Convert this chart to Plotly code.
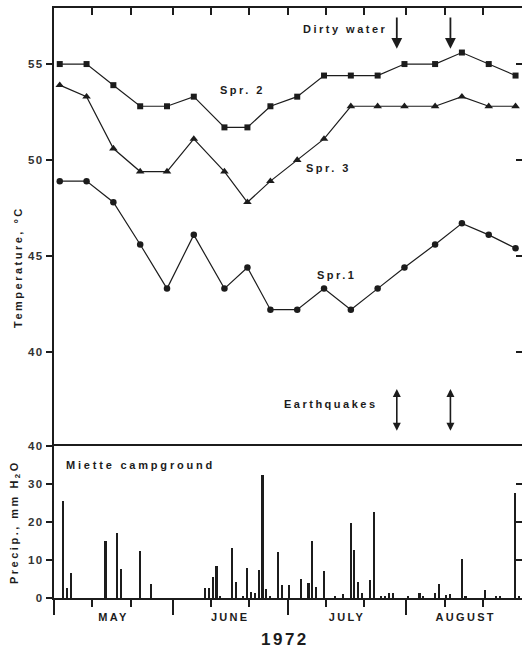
import plotly.graph_objects as go
import pandas as pd

# ---------------- data ----------------
sample_dates = ["1972-05-02", "1972-05-09", "1972-05-16", "1972-05-23", "1972-05-30",
                "1972-06-06", "1972-06-14", "1972-06-20", "1972-06-26", "1972-07-03",
                "1972-07-10", "1972-07-17", "1972-07-24", "1972-07-31", "1972-08-08",
                "1972-08-15", "1972-08-22", "1972-08-29"]
spr2 = [55.0, 55.0, 53.9, 52.8, 52.8, 53.3, 51.7, 51.7, 52.8, 53.3,
        54.4, 54.4, 54.4, 55.0, 55.0, 55.6, 55.0, 54.4]
spr3 = [53.9, 53.3, 50.6, 49.4, 49.4, 51.1, 49.4, 47.8, 48.9, 50.0,
        51.1, 52.8, 52.8, 52.8, 52.8, 53.3, 52.8, 52.8]
spr1 = [48.9, 48.9, 47.8, 45.6, 43.3, 46.1, 43.3, 44.4, 42.2, 42.2,
        43.3, 42.2, 43.3, 44.4, 45.6, 46.7, 46.1, 45.4]

precip_dates = ["1972-05-03", "1972-05-04", "1972-05-05", "1972-05-14", "1972-05-17",
                "1972-05-18", "1972-05-23", "1972-05-26", "1972-06-09", "1972-06-10",
                "1972-06-11", "1972-06-12", "1972-06-13", "1972-06-16", "1972-06-17",
                "1972-06-19", "1972-06-20", "1972-06-21", "1972-06-22", "1972-06-23",
                "1972-06-24", "1972-06-25", "1972-06-26", "1972-06-28", "1972-06-29",
                "1972-07-01", "1972-07-04", "1972-07-06", "1972-07-07", "1972-07-08",
                "1972-07-10", "1972-07-13", "1972-07-15", "1972-07-17", "1972-07-18",
                "1972-07-19", "1972-07-20", "1972-07-22", "1972-07-23", "1972-07-25",
                "1972-07-26", "1972-07-27", "1972-07-28", "1972-08-01", "1972-08-04",
                "1972-08-05", "1972-08-08", "1972-08-09", "1972-08-11", "1972-08-12",
                "1972-08-15", "1972-08-16", "1972-08-21", "1972-08-24", "1972-08-25",
                "1972-08-29", "1972-08-30"]
precip_mm = [25.5, 2.6, 6.5, 15.0, 17.0,
             7.6, 12.3, 3.7, 2.6, 2.7,
             5.6, 8.3, 0.6, 13.2, 4.1,
             0.4, 7.8, 1.7, 1.3, 7.4,
             32.3, 2.3, 0.6, 12.2, 3.5,
             3.3, 4.9, 3.9, 15.0, 3.0,
             7.2, 0.6, 1.0, 19.7, 12.6,
             4.3, 1.4, 4.8, 22.6, 0.5,
             0.6, 1.2, 1.2, 0.6, 1.2,
             0.4, 1.2, 3.6, 0.7, 1.1,
             10.2, 0.5, 2.0, 0.5, 0.4,
             27.6, 0.6]

event_dates = ["1972-07-29 12:00", "1972-08-12 12:00"]

temp_ticks = [40, 45, 50, 55]
precip_ticks = [0, 10, 20, 30, 40]
month_starts = ["1972-05-01", "1972-06-01", "1972-07-01", "1972-08-01"]
ten_day_marks = ["1972-05-11", "1972-05-21", "1972-06-11", "1972-06-21",
                 "1972-07-11", "1972-07-21", "1972-08-11", "1972-08-21"]
month_names = ["MAY", "JUNE", "JULY", "AUGUST"]

# ---------------- style ----------------
INK = "#1c1c1c"
FONT = "Liberation Sans, Arial, Helvetica, sans-serif"
DAY_MS = 86400000
X_RANGE = ["1972-05-01", "1972-08-31 04:30"]
T_RANGE = [35.10, 57.92]
P_RANGE = [0, 40]
SPLIT = 152 / 590


def ls(txt, sp=2.5):
    return f'<span style="letter-spacing:{sp}px">{txt}</span>'


all_top_ticks = sorted(pd.to_datetime(ten_day_marks + month_starts[1:]))
starts = pd.to_datetime(month_starts + ["1972-09-01"])
month_mids = list(starts[:-1] + (starts[1:] - starts[:-1]) / 2)

fig = go.Figure()

for vals, sym, size in [(spr2, "square", 6), (spr3, "triangle-up", 7.5), (spr1, "circle", 6.5)]:
    fig.add_trace(go.Scatter(
        x=sample_dates, y=vals, mode="lines+markers",
        xperiod=DAY_MS, xperiodalignment="middle",
        line=dict(color=INK, width=1.2),
        marker=dict(symbol=sym, size=size, color=INK),
        xaxis="x", yaxis="y", showlegend=False, hoverinfo="x+y"))

fig.add_trace(go.Bar(
    x=precip_dates, y=precip_mm, xperiod=DAY_MS, xperiodalignment="middle",
    width=0.42 * DAY_MS, marker=dict(color=INK, line=dict(width=0)),
    xaxis="x2", yaxis="y2", showlegend=False))

# empty helper traces so that the overlay axes (month labels, right-hand ticks) get drawn
for xa, ya in [("x3", "y2"), ("x", "y3"), ("x2", "y4")]:
    fig.add_trace(go.Scatter(x=[], y=[], xaxis=xa, yaxis=ya, showlegend=False,
                             hoverinfo="skip"))

axis_common = dict(showgrid=False, zeroline=False, linecolor=INK, tickcolor=INK)
tickfont = dict(family=FONT, size=11.5, color="#333333", weight="bold")

fig.update_layout(
    width=522, height=649,
    margin=dict(l=54, r=0, t=8, b=51),
    paper_bgcolor="white", plot_bgcolor="white",
    bargap=0,
    xaxis=dict(**axis_common, type="date", domain=[0, 1], anchor="y", range=X_RANGE,
               side="top", showline=True, linewidth=2, ticks="inside", ticklen=7,
               tickwidth=1.5, tickmode="array", tickvals=all_top_ticks,
               showticklabels=False),
    yaxis=dict(**axis_common, domain=[SPLIT, 1], anchor="x", range=T_RANGE,
               showline=True, linewidth=2, ticks="outside", ticklen=6, tickwidth=1.5,
               tickmode="array", tickvals=temp_ticks,
               ticktext=[ls(str(v), 1.5) for v in temp_ticks], tickfont=tickfont),
    xaxis2=dict(**axis_common, type="date", domain=[0, 1], anchor="y2", range=X_RANGE,
                showline=True, mirror=True, linewidth=2, ticks="outside", ticklen=15,
                tickwidth=1.5, tickmode="array", tickvals=month_starts,
                showticklabels=False,
                minor=dict(tickmode="array", tickvals=ten_day_marks, ticks="outside",
                           ticklen=7, tickwidth=1.5, tickcolor=INK, showgrid=False)),
    yaxis2=dict(**axis_common, domain=[0, SPLIT], anchor="x2", range=P_RANGE,
                showline=True, linewidth=2, ticks="outside", ticklen=6, tickwidth=1.5,
                tickmode="array", tickvals=precip_ticks,
                ticktext=[ls(str(v), 1.5) for v in precip_ticks], tickfont=tickfont),
    xaxis3=dict(type="date", overlaying="x2", anchor="y2", side="bottom", range=X_RANGE,
                showgrid=False, zeroline=False, showline=False, ticks="outside",
                ticklen=9, tickcolor="rgba(0,0,0,0)", tickmode="array",
                tickvals=month_mids, ticktext=[ls(m, 2.3) for m in month_names],
                tickfont=dict(family=FONT, size=11, color=INK, weight="bold")),
    yaxis3=dict(overlaying="y", side="right", anchor="x", range=T_RANGE,
                showgrid=False, zeroline=False, showline=False, ticks="inside",
                ticklen=6, tickwidth=1.5, tickcolor=INK, tickmode="array",
                tickvals=temp_ticks, showticklabels=False),
    yaxis4=dict(overlaying="y2", side="right", anchor="x2", range=P_RANGE,
                showgrid=False, zeroline=False, showline=False, ticks="inside",
                ticklen=6, tickwidth=1.5, tickcolor=INK, tickmode="array",
                tickvals=precip_ticks[1:-1], showticklabels=False),
)

lab_font = dict(family=FONT, size=11, color=INK, weight="bold")
annotations = []
for txt, x, y in [("Dirty water", "1972-07-15 22:00", 56.82),
                  ("Spr. 2", "1972-06-19 02:00", 53.65),
                  ("Spr. 3", "1972-07-11 19:00", 49.58),
                  ("Spr.1", "1972-07-13 19:00", 44.01),
                  ("Earthquakes", "1972-07-12 07:00", 37.29)]:
    annotations.append(dict(text=ls(txt), x=x, y=y, xref="x", yref="y",
                            showarrow=False, xanchor="center", yanchor="middle",
                            font=lab_font))
annotations.append(dict(text=ls("Miette campground", 2.8), x="1972-05-23 17:00", y=35.1,
                        xref="x2", yref="y2", showarrow=False, xanchor="center",
                        yanchor="middle", font=lab_font))

for d in event_dates:
    annotations.append(dict(text="", x=d, y=55.8, ax=d, ay=57.5, xref="x", yref="y",
                            axref="x", ayref="y", showarrow=True, arrowhead=2,
                            arrowsize=1.2, arrowwidth=1.8, arrowcolor=INK))
    annotations.append(dict(text="", x=d, y=35.9, ax=d, ay=38.15, xref="x", yref="y",
                            axref="x", ayref="y", showarrow=True, arrowhead=2,
                            arrowside="end+start", arrowsize=1.0, arrowwidth=1.6,
                            arrowcolor=INK))

annotations.append(dict(text=ls("Temperature, °C", 2.5), x=(18 - 54) / 468, y=(598 - 267) / 590,
                        xref="paper", yref="paper", textangle=-90, showarrow=False,
                        xanchor="center", yanchor="middle", font=lab_font))
annotations.append(dict(text=ls("Precip., mm H<sub>2</sub>O", 2.5), x=(15 - 54) / 468,
                        y=(598 - 522) / 590, xref="paper", yref="paper", textangle=-90,
                        showarrow=False, xanchor="center", yanchor="middle", font=lab_font))
annotations.append(dict(text=ls("1972", 2.5), x=(285 - 54) / 468, y=(598 - 639) / 590,
                        xref="paper", yref="paper", showarrow=False, xanchor="center",
                        yanchor="middle", font=dict(family=FONT, size=17, color=INK,
                                                    weight="bold")))

fig.update_layout(annotations=annotations)
fig.write_html("out.html", config={"displayModeBar": False},
               post_script="document.body.style.margin='0';document.body.style.overflow='hidden';")
